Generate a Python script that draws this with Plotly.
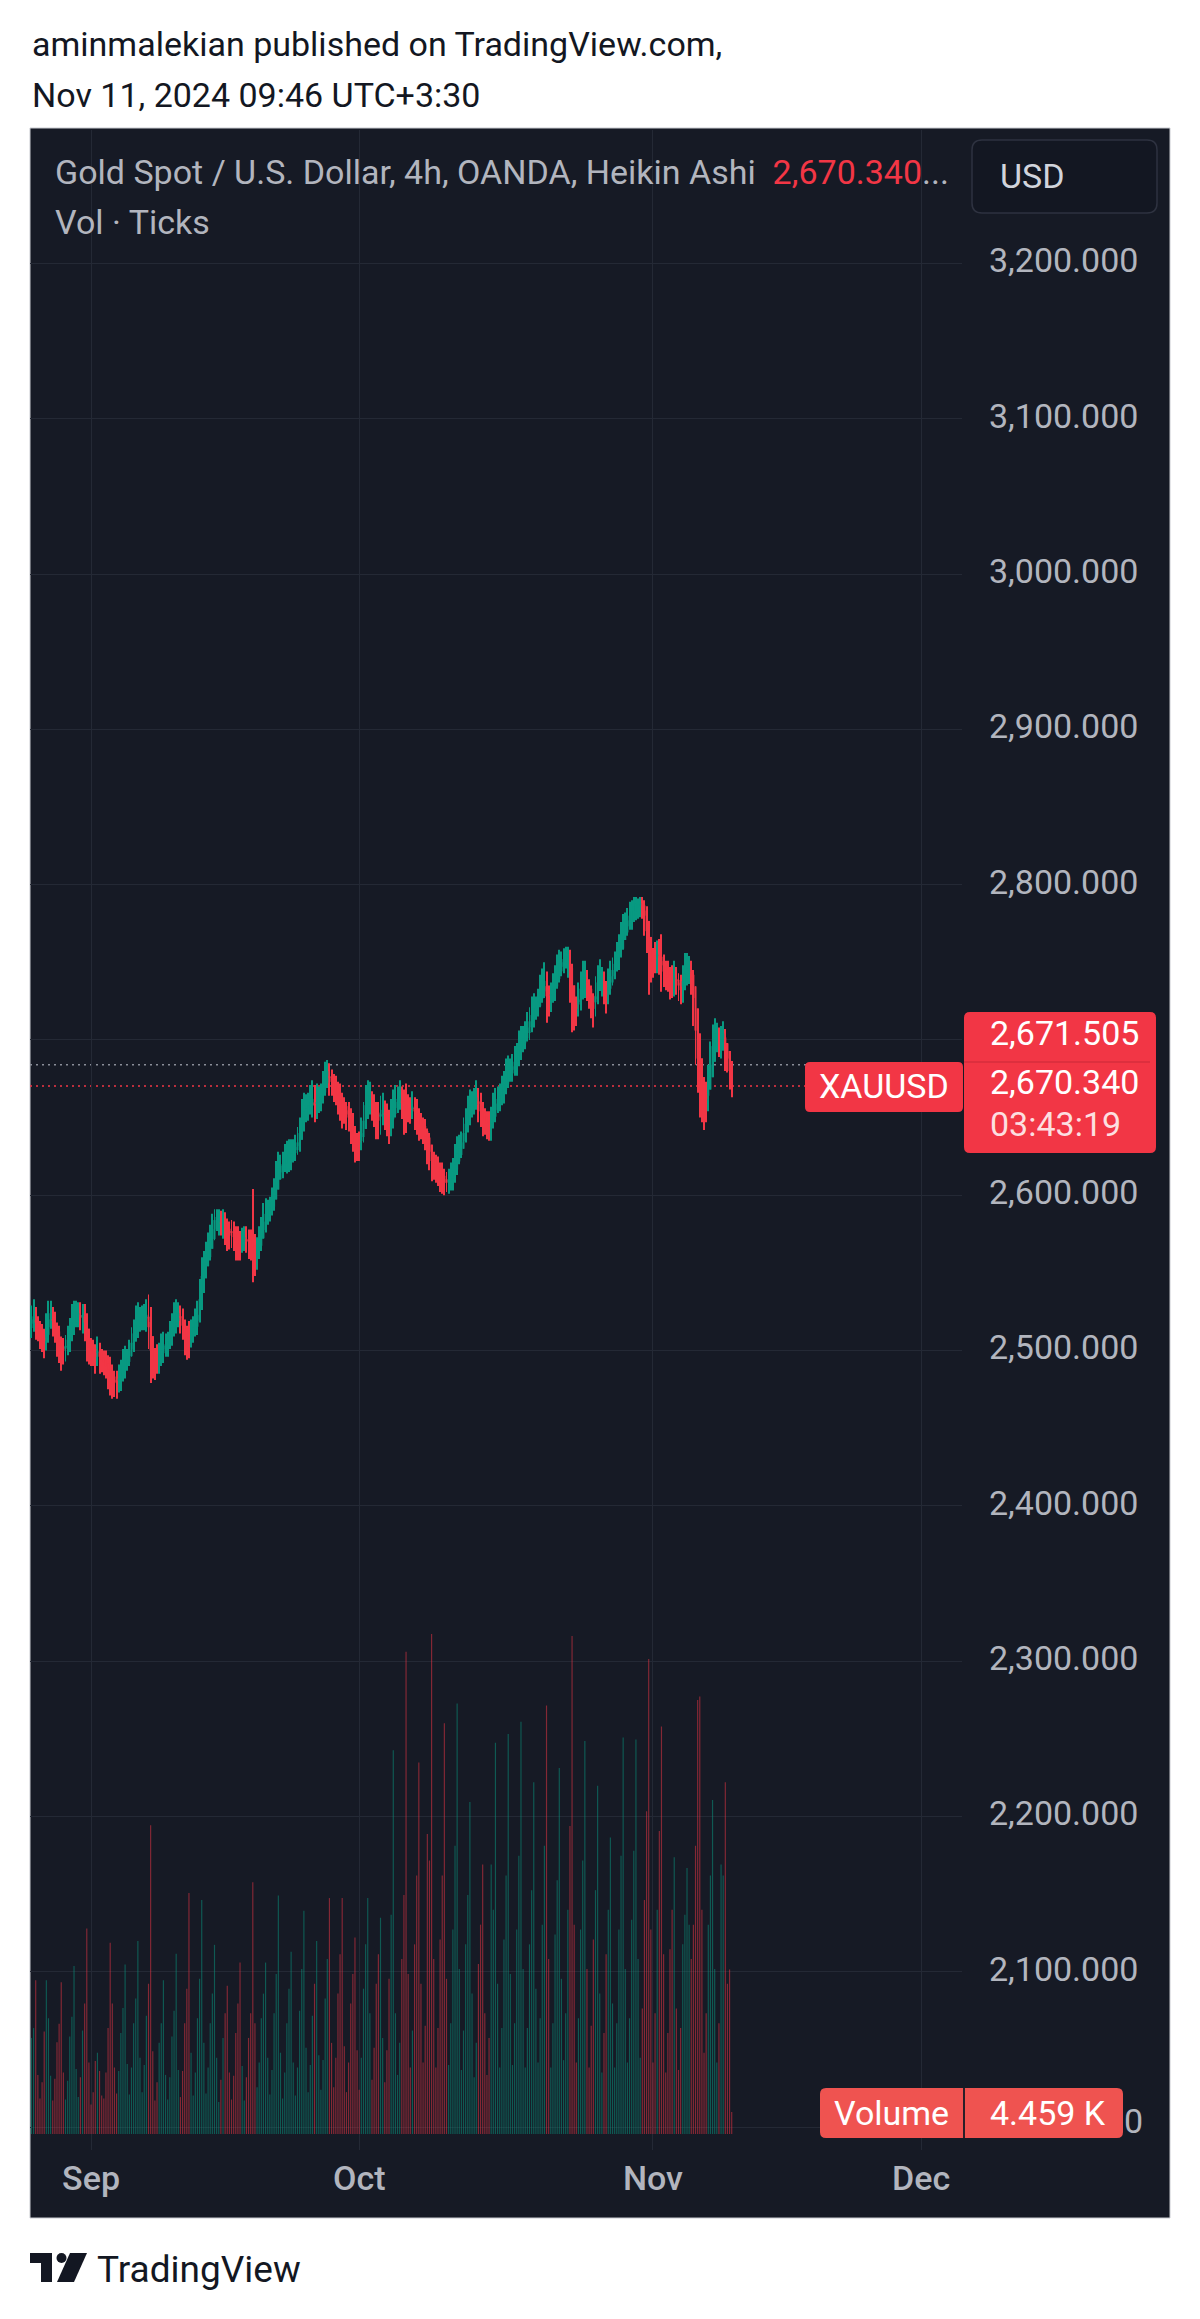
import pandas as pd
import plotly.graph_objects as go

# ---------------- data ----------------
first_ha_open = 2512.0
# Heikin Ashi 4h closes, one line per trading day (6 bars/day)
ha_close = [
    2514, 2516, 2520, 2522, 2518, 2514,  # Aug 26
    2511, 2507, 2506, 2512, 2520, 2524,  # Aug 27
    2519, 2514, 2508, 2503, 2497, 2500,  # Aug 28
    2503, 2507, 2512, 2518, 2523, 2525,  # Aug 29
    2524, 2521, 2522, 2518, 2508, 2502,  # Aug 30
    2500, 2498, 2496, 2499, 2496, 2494,  # Sep 2
    2492, 2490, 2488, 2483, 2480, 2479,  # Sep 3
    2480, 2482, 2486, 2490, 2494, 2495,  # Sep 4
    2500, 2505, 2511, 2517, 2520, 2521,  # Sep 5
    2522, 2521, 2523, 2515, 2500, 2494,  # Sep 6
    2493, 2495, 2497, 2500, 2503, 2504,  # Sep 9
    2506, 2510, 2515, 2519, 2523, 2524,  # Sep 10
    2521, 2516, 2510, 2504, 2508, 2512,  # Sep 11
    2515, 2518, 2523, 2533, 2548, 2556,  # Sep 12
    2562, 2566, 2571, 2578, 2584, 2586,  # Sep 13
    2584, 2582, 2583, 2579, 2576, 2574,  # Sep 16
    2576, 2573, 2571, 2569, 2568, 2571,  # Sep 17
    2573, 2571, 2570, 2568, 2566, 2562,  # Sep 18
    2565, 2570, 2577, 2583, 2588, 2590,  # Sep 19
    2592, 2596, 2602, 2610, 2617, 2619,  # Sep 20
    2620, 2623, 2626, 2624, 2627, 2629,  # Sep 23
    2631, 2634, 2640, 2648, 2654, 2656,  # Sep 24
    2658, 2660, 2662, 2658, 2660, 2661,  # Sep 25
    2664, 2670, 2678, 2680, 2676, 2673,  # Sep 26
    2670, 2667, 2664, 2660, 2656, 2655,  # Sep 27
    2652, 2650, 2646, 2640, 2634, 2632,  # Sep 30
    2634, 2640, 2648, 2658, 2664, 2662,  # Oct 1
    2658, 2654, 2650, 2648, 2652, 2655,  # Oct 2
    2652, 2648, 2645, 2650, 2656, 2660,  # Oct 3
    2662, 2663, 2660, 2656, 2654, 2656,  # Oct 4
    2655, 2657, 2654, 2650, 2646, 2645,  # Oct 7
    2642, 2638, 2633, 2628, 2622, 2620,  # Oct 8
    2618, 2615, 2612, 2610, 2608, 2608,  # Oct 9
    2610, 2612, 2615, 2620, 2627, 2630,  # Oct 10
    2634, 2640, 2646, 2652, 2657, 2659,  # Oct 11
    2661, 2663, 2659, 2654, 2650, 2648,  # Oct 14
    2646, 2644, 2648, 2654, 2659, 2662,  # Oct 15
    2664, 2667, 2671, 2676, 2680, 2681,  # Oct 16
    2683, 2686, 2689, 2694, 2699, 2701,  # Oct 17
    2704, 2708, 2712, 2716, 2720, 2721,  # Oct 18
    2725, 2731, 2736, 2738, 2728, 2726,  # Oct 21
    2729, 2733, 2738, 2744, 2749, 2750,  # Oct 22
    2752, 2754, 2753, 2740, 2724, 2716,  # Oct 23
    2720, 2726, 2733, 2738, 2740, 2735,  # Oct 24
    2730, 2724, 2720, 2728, 2737, 2742,  # Oct 25
    2738, 2732, 2729, 2734, 2741, 2745,  # Oct 28
    2749, 2753, 2758, 2764, 2770, 2774,  # Oct 29
    2777, 2780, 2783, 2786, 2788, 2787,  # Oct 30
    2788, 2786, 2780, 2770, 2756, 2752,  # Oct 31
    2750, 2752, 2755, 2753, 2748, 2744,  # Nov 1
    2742, 2740, 2738, 2737, 2740, 2738,  # Nov 4
    2735, 2732, 2738, 2743, 2746, 2745,  # Nov 5
    2740, 2727, 2706, 2688, 2672, 2664,  # Nov 6
    2656, 2662, 2672, 2684, 2696, 2704,  # Nov 7
    2702, 2698, 2700, 2704, 2694, 2688,  # Nov 8
    2680, 2670.34,                       # Nov 11
]
ha_high = [
    2521, 2525, 2529, 2533, 2528, 2522,
    2519, 2517, 2514, 2524, 2532, 2532,
    2528, 2525, 2518, 2516, 2509, 2508,
    2510, 2516, 2521, 2530, 2532, 2532,
    2531, 2531, 2530, 2530, 2524, 2513,
    2508, 2507, 2504, 2509, 2505, 2501,
    2500, 2500, 2497, 2496, 2491, 2487,
    2487, 2491, 2494, 2501, 2503, 2501,
    2507, 2515, 2520, 2529, 2531, 2528,
    2529, 2530, 2533, 2536, 2528, 2505,
    2501, 2504, 2505, 2511, 2512, 2511,
    2512, 2519, 2524, 2531, 2533, 2531,
    2529, 2527, 2520, 2516, 2519, 2520,
    2522, 2527, 2532, 2546, 2560, 2564,
    2570, 2576, 2581, 2588, 2591, 2591,
    2591, 2590, 2591, 2589, 2585, 2583,
    2584, 2583, 2580, 2580, 2577, 2579,
    2580, 2580, 2578, 2578, 2604, 2575,
    2573, 2580, 2586, 2595, 2598, 2597,
    2599, 2605, 2611, 2622, 2628, 2626,
    2628, 2633, 2635, 2636, 2636, 2636,
    2639, 2644, 2650, 2662, 2666, 2665,
    2666, 2671, 2674, 2671, 2672, 2670,
    2672, 2680, 2686, 2687, 2685, 2681,
    2678, 2677, 2673, 2672, 2666, 2663,
    2660, 2660, 2656, 2653, 2644, 2640,
    2641, 2650, 2660, 2671, 2674, 2673,
    2667, 2665, 2660, 2660, 2664, 2666,
    2661, 2659, 2655, 2662, 2668, 2671,
    2670, 2674, 2670, 2668, 2672, 2665,
    2663, 2667, 2663, 2662, 2656, 2653,
    2650, 2649, 2643, 2640, 2632, 2628,
    2626, 2625, 2621, 2621, 2617, 2615,
    2617, 2621, 2624, 2633, 2638, 2639,
    2641, 2650, 2656, 2664, 2668, 2667,
    2669, 2674, 2669, 2666, 2660, 2656,
    2654, 2654, 2657, 2666, 2669, 2670,
    2672, 2677, 2680, 2688, 2690, 2688,
    2691, 2696, 2698, 2706, 2709, 2709,
    2712, 2718, 2721, 2728, 2730, 2728,
    2733, 2742, 2746, 2750, 2744, 2735,
    2737, 2743, 2748, 2755, 2758, 2757,
    2759, 2760, 2760, 2758, 2749, 2731,
    2728, 2737, 2744, 2751, 2751, 2745,
    2739, 2735, 2730, 2741, 2748, 2752,
    2747, 2744, 2738, 2746, 2751, 2753,
    2757, 2763, 2768, 2776, 2781, 2782,
    2785, 2789, 2790, 2792, 2792, 2791,
    2792, 2792, 2790, 2786, 2776, 2763,
    2759, 2763, 2764, 2765, 2768, 2755,
    2751, 2751, 2747, 2748, 2751, 2747,
    2743, 2742, 2748, 2756, 2756, 2754,
    2751, 2745, 2729, 2714, 2694, 2679,
    2665, 2673, 2684, 2699, 2710, 2714,
    2711, 2708, 2709, 2712, 2707, 2698,
    2691, 2681,
]
ha_low = [
    2505, 2508, 2508, 2512, 2507, 2506,
    2501, 2499, 2495, 2500, 2505, 2514,
    2509, 2505, 2496, 2492, 2487, 2491,
    2493, 2497, 2499, 2506, 2510, 2515,
    2515, 2513, 2511, 2506, 2493, 2491,
    2490, 2490, 2485, 2490, 2485, 2486,
    2484, 2482, 2475, 2471, 2469, 2470,
    2469, 2473, 2474, 2480, 2482, 2487,
    2490, 2496, 2499, 2506, 2508, 2512,
    2513, 2513, 2512, 2501, 2479, 2482,
    2481, 2485, 2485, 2490, 2492, 2496,
    2496, 2501, 2503, 2509, 2511, 2515,
    2511, 2507, 2497, 2494, 2495, 2502,
    2505, 2509, 2510, 2518, 2530, 2545,
    2552, 2557, 2558, 2566, 2571, 2577,
    2574, 2574, 2572, 2568, 2564, 2565,
    2566, 2564, 2558, 2558, 2558, 2563,
    2564, 2563, 2559, 2558, 2544, 2548,
    2552, 2559, 2564, 2572, 2576, 2581,
    2583, 2587, 2590, 2599, 2605, 2610,
    2611, 2615, 2614, 2615, 2616, 2621,
    2622, 2626, 2628, 2637, 2641, 2647,
    2648, 2652, 2650, 2647, 2649, 2653,
    2654, 2659, 2664, 2669, 2664, 2664,
    2660, 2658, 2652, 2648, 2643, 2646,
    2642, 2641, 2633, 2628, 2621, 2622,
    2622, 2629, 2634, 2644, 2649, 2652,
    2648, 2644, 2636, 2636, 2639, 2645,
    2642, 2638, 2633, 2638, 2643, 2650,
    2653, 2655, 2649, 2639, 2640, 2647,
    2646, 2649, 2642, 2639, 2635, 2636,
    2633, 2629, 2620, 2616, 2609, 2610,
    2608, 2606, 2602, 2601, 2600, 2602,
    2601, 2603, 2603, 2608, 2613, 2620,
    2624, 2631, 2634, 2642, 2645, 2650,
    2652, 2655, 2647, 2644, 2638, 2639,
    2636, 2635, 2635, 2643, 2647, 2653,
    2654, 2658, 2659, 2665, 2669, 2673,
    2673, 2677, 2677, 2683, 2687, 2692,
    2694, 2699, 2700, 2705, 2708, 2713,
    2715, 2721, 2724, 2727, 2711, 2715,
    2718, 2724, 2725, 2733, 2737, 2741,
    2743, 2746, 2740, 2724, 2705, 2706,
    2709, 2715, 2719, 2726, 2727, 2725,
    2720, 2714, 2708, 2715, 2723, 2732,
    2728, 2723, 2717, 2723, 2729, 2735,
    2739, 2744, 2745, 2753, 2758, 2765,
    2767, 2771, 2771, 2776, 2777, 2778,
    2779, 2778, 2767, 2756, 2729, 2737,
    2740, 2743, 2743, 2742, 2731, 2734,
    2732, 2731, 2726, 2727, 2728, 2729,
    2725, 2723, 2724, 2732, 2735, 2736,
    2729, 2709, 2684, 2666, 2650, 2647,
    2642, 2647, 2654, 2668, 2679, 2691,
    2692, 2689, 2688, 2693, 2680, 2679,
    2668, 2663,
]
tick_volume = [
    6500, 9800, 19500, 21500, 31200, 12000,
    7200, 10500, 20800, 31200, 23500, 11800,
    6800, 11200, 18600, 22400, 30800, 12500,
    7000, 10800, 19800, 23800, 34100, 13200,
    7500, 11500, 21000, 26500, 41700, 14500,
    6000, 8500, 14800, 16500, 12800, 7800,
    7200, 12500, 21500, 38800, 26500, 13500,
    8200, 12800, 20500, 25600, 34400, 14200,
    8000, 13500, 22500, 27500, 39200, 15500,
    8500, 14000, 24000, 30500, 62700, 16800,
    6800, 10500, 18500, 22500, 31200, 12000,
    7000, 11500, 19800, 25000, 36600, 13000,
    7500, 12800, 22500, 29500, 48900, 16500,
    7800, 12500, 23500, 31500, 47500, 18500,
    8200, 13500, 22500, 28500, 38400, 15500,
    6500, 11000, 19500, 24500, 30100, 12500,
    7000, 11800, 20500, 26500, 34800, 13800,
    6800, 11500, 19500, 24500, 51100, 22500,
    9500, 14500, 23500, 28500, 34800, 15500,
    8000, 13000, 24500, 32500, 48400, 16500,
    7200, 12500, 22500, 29500, 37000, 14500,
    7800, 13500, 25000, 33500, 45300, 17500,
    8500, 14000, 24000, 30500, 39200, 16000,
    9000, 15000, 27500, 35500, 47900, 18500,
    9500, 15500, 28500, 36500, 47900, 17800,
    8500, 14500, 26500, 32500, 39900, 17000,
    9000, 15500, 29500, 38500, 47900, 24500,
    11000, 17500, 30500, 36500, 43900, 19500,
    10500, 17000, 31500, 44500, 77900, 24500,
    12000, 18500, 35500, 48500, 97900, 32500,
    13500, 21000, 38500, 52500, 75400, 30500,
    14500, 22000, 60900, 55500, 101500, 35500,
    13500, 21500, 39500, 52500, 83400, 31500,
    14000, 22500, 41500, 58500, 87400, 33500,
    13000, 21000, 38500, 48500, 67400, 28500,
    11500, 18500, 34500, 42500, 54700, 24500,
    12000, 19500, 54700, 45500, 79400, 30500,
    13500, 21500, 39500, 52500, 81200, 32500,
    14000, 22500, 41500, 56500, 83700, 33500,
    13500, 21500, 38500, 49500, 71400, 29500,
    14500, 23500, 42500, 58500, 87000, 35500,
    13500, 22500, 40500, 51500, 74300, 31500,
    15000, 24500, 45500, 62500, 101100, 42500,
    14500, 23500, 41500, 55500, 79800, 33500,
    13500, 22000, 39500, 49500, 70700, 28500,
    12500, 20500, 36500, 45500, 60200, 26500,
    13500, 22500, 41500, 56500, 80500, 33500,
    14500, 23500, 43500, 57500, 80100, 35500,
    15500, 25500, 47500, 65500, 96400, 41500,
    14500, 24500, 45500, 61500, 82700, 36500,
    12500, 20500, 37500, 45500, 56200, 25500,
    13000, 21500, 38500, 44500, 54000, 42500,
    35500, 42500, 58500, 88100, 88800, 45500,
    16500, 24500, 42500, 52500, 67800, 33500,
    14500, 22500, 54700, 52500, 71400, 30500,
    33400, 4459,
]
last_price_text = "2,670.340"
real_price_text = "2,671.505"
last_price = 2670.340
prev_day_close = 2684.0
countdown = "03:43:19"
symbol = "XAUUSD"
volume_text = "4.459 K"
month_ticks = ["2024-09-02", "2024-10-01", "2024-11-01", "2024-12-02"]
month_labels = ["Sep", "Oct", "Nov", "Dec"]
price_ticks = [2000, 2100, 2200, 2300, 2400, 2500, 2600, 2700, 2800, 2900, 3000, 3100, 3200]
hidden_price_ticks = [2000, 2700]          # covered by the label boxes in the picture
visible_tail_of_2000 = "0"                 # the last digit of 2,000.000 peeking out
view_start, view_end = "2024-08-26 05:17", "2024-12-05 04:48"

# ---------------- derived series ----------------
days = pd.bdate_range("2024-08-26", "2024-11-11")
times = [d + pd.Timedelta(hours=h) for d in days for h in range(0, 24, 4)][: len(ha_close)]
ha_open = [first_ha_open]
for i in range(1, len(ha_close)):
    ha_open.append((ha_open[-1] + ha_close[i - 1]) / 2)
hi = [max(h, o, c) for h, o, c in zip(ha_high, ha_open, ha_close)]
lo = [min(l, o, c) for l, o, c in zip(ha_low, ha_open, ha_close)]
UP, DN = "#089981", "#F23645"
is_up = [c >= o for o, c in zip(ha_open, ha_close)]
candle_colors = [UP if u else DN for u in is_up]
vol_colors = ["rgba(8,153,129,0.5)" if u else "rgba(242,54,69,0.5)" for u in is_up]
body_base = [min(o, c) for o, c in zip(ha_open, ha_close)]
body_len = [max(abs(c - o), 0.7) for o, c in zip(ha_open, ha_close)]
wick_len = [h - l for h, l in zip(hi, lo)]
price_ticktext = ["" if v in hidden_price_ticks else f"{v:,.3f}" for v in price_ticks]
BAR_MS = 4 * 3600 * 1000

# ---------------- geometry helpers (pixels -> paper) ----------------
PL, PR, PT, PB = 30, 962, 130, 2150
def px(x): return (x - PL) / (PR - PL)
def py(y): return (PB - y) / (PB - PT)

def rrect(x0, y0, x1, y1, r):
    P = lambda x, y: f"{px(x):.5f},{py(y):.5f}"
    return (f"M{P(x0 + r, y0)} L{P(x1 - r, y0)} Q{P(x1, y0)} {P(x1, y0 + r)} "
            f"L{P(x1, y1 - r)} Q{P(x1, y1)} {P(x1 - r, y1)} L{P(x0 + r, y1)} "
            f"Q{P(x0, y1)} {P(x0, y1 - r)} L{P(x0, y0 + r)} Q{P(x0, y0)} {P(x0 + r, y0)} Z")

def note(text, x, y, size=34, color="#B2B5BE", xanchor="left", weight=400):
    return dict(text=text, x=px(x), y=py(y), xref="paper", yref="paper", xanchor=xanchor,
                yanchor="middle", showarrow=False,
                font=dict(family="Roboto", size=size, color=color, weight=weight))

# ---------------- figure ----------------
fig = go.Figure()
# volume (overlay pane at the bottom)
fig.add_trace(go.Bar(x=times, y=tick_volume, yaxis="y2", width=[BAR_MS * 0.55] * len(times),
                     marker=dict(color=vol_colors, line_width=0), hoverinfo="skip"))
# Heikin Ashi wicks and bodies
fig.add_trace(go.Bar(x=times, y=wick_len, base=lo, width=[BAR_MS * 0.45] * len(times),
                     marker=dict(color=candle_colors, line_width=0), hoverinfo="skip"))
fig.add_trace(go.Bar(x=times, y=body_len, base=body_base, width=[BAR_MS * 0.95] * len(times),
                     marker=dict(color=candle_colors, line_width=0), hoverinfo="skip"))

BG = "#161A25"
GRID = "#242935"
shapes = [
    dict(type="rect", xref="paper", yref="paper", x0=px(30), x1=px(1170), y0=py(2218), y1=py(128),
         fillcolor=BG, line=dict(color="#C9CBD1", width=1), layer="below"),
    dict(type="line", xref="paper", yref="y", x0=0, x1=1, y0=prev_day_close, y1=prev_day_close,
         line=dict(color="#8A8E99", width=1.5, dash="2px,4px"), layer="between"),
    dict(type="line", xref="paper", yref="y", x0=0, x1=1, y0=last_price, y1=last_price,
         line=dict(color=DN, width=1.5, dash="2px,4px"), layer="between"),
    dict(type="path", xref="paper", yref="paper", path=rrect(972, 140, 1157, 213, 10),
         fillcolor="#131722", line=dict(color="#2E3240", width=1.5), layer="above"),
    dict(type="path", xref="paper", yref="paper", path=rrect(805, 1062, 963, 1112, 5),
         fillcolor=DN, line=dict(width=0), layer="above"),
    dict(type="path", xref="paper", yref="paper", path=rrect(964, 1012, 1156, 1153, 6),
         fillcolor=DN, line=dict(width=0), layer="above"),
    dict(type="line", xref="paper", yref="paper", x0=px(964), x1=px(1150), y0=py(1062), y1=py(1062),
         line=dict(color="rgba(120,20,30,0.35)", width=1), layer="above"),
    dict(type="path", xref="paper", yref="paper", path=rrect(820, 2088, 1123, 2138, 6),
         fillcolor="#EF5350", line=dict(width=0), layer="above"),
    dict(type="line", xref="paper", yref="paper", x0=px(964), x1=px(964), y0=py(2088), y1=py(2138),
         line=dict(color="#2A1F28", width=2), layer="above"),
    # TradingView logo
    dict(type="path", xref="paper", yref="paper",
         path=f"M{px(30)},{py(2253)} L{px(52)},{py(2253)} L{px(52)},{py(2282)} L{px(41)},{py(2282)} "
              f"L{px(41)},{py(2263)} L{px(30)},{py(2263)} Z",
         fillcolor="#131722", line=dict(width=0), layer="above"),
    dict(type="circle", xref="paper", yref="paper", x0=px(56.5), x1=px(66.5), y0=py(2263), y1=py(2253),
         fillcolor="#131722", line=dict(width=0), layer="above"),
    dict(type="path", xref="paper", yref="paper",
         path=f"M{px(70)},{py(2253)} L{px(87)},{py(2253)} L{px(74)},{py(2282)} L{px(57)},{py(2282)} Z",
         fillcolor="#131722", line=dict(width=0), layer="above"),
]

NB = "\u00a0"
annotations = [
    note("aminmalekian published on TradingView.com,", 30, 44, size=34, color="#131722"),
    note("Nov 11, 2024 09:46 UTC+3:30", 30, 95, size=34, color="#131722"),
    note(f"Gold Spot / U.S. Dollar, 4h, OANDA, Heikin Ashi{NB}{NB}<span style='color:{DN}'>{last_price_text}</span>...",
         53, 172, size=34, color="#B2B5BE"),
    note("Vol · Ticks", 53, 222, size=34, color="#B2B5BE"),
    note("USD", 998, 176, size=34, color="#D1D4DC"),
    note(symbol, 884, 1086, size=34, color="#FFFFFF", xanchor="center"),
    note(real_price_text, 988, 1033, size=34, color="#FFFFFF"),
    note(last_price_text, 988, 1082, size=34, color="#FFFFFF"),
    note(countdown, 988, 1124, size=34, color="rgba(255,255,255,0.85)"),
    note("Volume", 891, 2113, size=34, color="#FFFFFF", xanchor="center"),
    note(volume_text, 1048, 2113, size=34, color="#FFFFFF", xanchor="center"),
    note(visible_tail_of_2000, 1122, 2121, size=34, color="#B2B5BE"),
    note("TradingView", 95, 2269, size=37, color="#131722"),
]

fig.update_layout(
    width=1200, height=2319, autosize=False,
    margin=dict(l=PL, r=1200 - PR, t=PT, b=2319 - PB),
    paper_bgcolor="white", plot_bgcolor="rgba(0,0,0,0)",
    showlegend=False, barmode="overlay", hovermode=False,
    font=dict(family="Roboto"),
    shapes=shapes, annotations=annotations,
    xaxis=dict(type="date", range=[view_start, view_end],
               rangebreaks=[dict(bounds=["sat", "mon"])],
               tickvals=month_ticks, ticktext=month_labels,
               showgrid=True, gridcolor=GRID, gridwidth=1, zeroline=False, showline=False,
               ticks="", ticklabelstandoff=5,
               tickfont=dict(family="Roboto", size=34, color="#B2B5BE", weight=500),
               fixedrange=True),
    yaxis=dict(range=[1985.2, 3285.9], side="right", tickvals=price_ticks, ticktext=price_ticktext,
               showgrid=True, gridcolor=GRID, gridwidth=1, zeroline=False, showline=False,
               ticks="", ticklabelstandoff=26, ticklabelshift=-3,
               tickfont=dict(family="Roboto", size=34, color="#B2B5BE"), fixedrange=True),
    yaxis2=dict(overlaying="y", range=[-3248, 406812], visible=False, fixedrange=True),
)

fig.write_html("out.html")
